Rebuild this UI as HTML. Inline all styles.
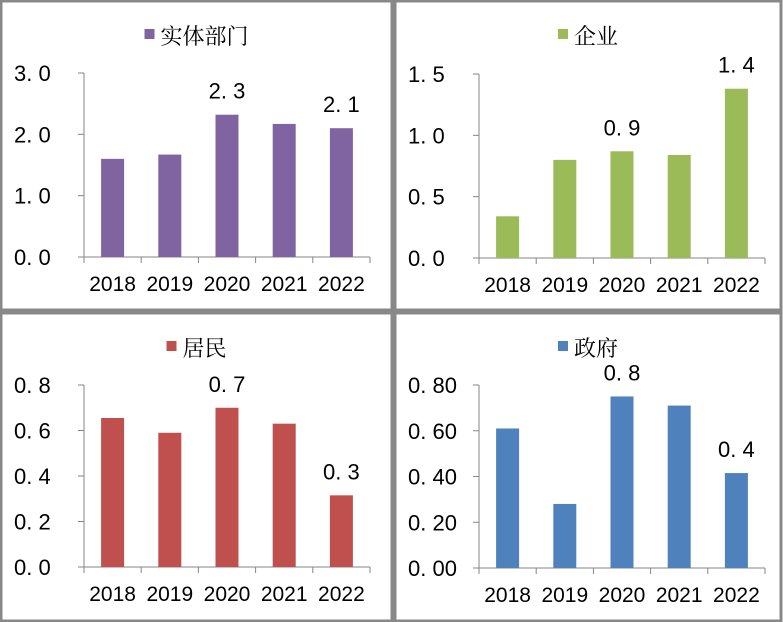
<!DOCTYPE html>
<html><head><meta charset="utf-8"><style>
body{margin:0;background:#fff;width:783px;height:622px;overflow:hidden;font-family:"Liberation Sans","Noto Sans CJK SC",sans-serif}
svg{position:absolute;left:0;top:0}
</style></head><body>
<svg id="c" width="783" height="622"></svg>
<script>
const years=["2018","2019","2020","2021","2022"];
const titles=["实体部门","企业","居民","政府"];
const colors=["#8064a2","#9bbb59","#c0504d","#4f81bd"];
const valsReal=[1.6,1.67,2.32,2.17,2.1];
const valsCorp=[0.34,0.8,0.87,0.84,1.38];
const valsHouse=[0.655,0.59,0.70,0.63,0.315];
const valsGov=[0.61,0.28,0.75,0.71,0.415];
const series=[valsReal,valsCorp,valsHouse,valsGov];
const ticksReal=["0.0","1.0","2.0","3.0"];
const ticksCorp=["0.0","0.5","1.0","1.5"];
const ticksHouse=["0.0","0.2","0.4","0.6","0.8"];
const ticksGov=["0.00","0.20","0.40","0.60","0.80"];
const tickSets=[ticksReal,ticksCorp,ticksHouse,ticksGov];
const labelsReal=[null,null,"2.3",null,"2.1"];
const labelsCorp=[null,null,"0.9",null,"1.4"];
const labelsHouse=[null,null,"0.7",null,"0.3"];
const labelsGov=[null,null,"0.8",null,"0.4"];
const labelSets=[labelsReal,labelsCorp,labelsHouse,labelsGov];
const NS="http://www.w3.org/2000/svg";
const svg=document.getElementById('c');
function mk(t,a,p){const e=document.createElementNS(NS,t);for(const k in a)e.setAttribute(k,a[k]);(p||svg).appendChild(e);return e;}
const panels=[[1,1,391,309],[395,1,386,309],[1,313,391,308],[395,313,386,308]];
const axes=[{x0:84,y0:257,y1:73},{x0:479,y0:258,y1:74},{x0:84,y0:567,y1:385},{x0:479,y0:568,y1:385}];
panels.forEach((p,i)=>{
  const g=mk('g',{});
  
  
  const r=mk('rect',{x:p[0],y:p[1],width:p[2],height:p[3],fill:'none',stroke:'#888',"stroke-width":3},g);
  
  
  const ax=axes[i];
  const cw=57.2, xEnd=ax.x0+cw*5;
  const ticks=tickSets[i];
  const maxV=parseFloat(ticks[ticks.length-1]);
  const ys=v=>ax.y0-(v/maxV)*(ax.y0-ax.y1);
  const xs=k=>ax.x0+cw*k+cw/2;
  const cx=p[0]+p[2]/2;
  const tw=titles[i].length*22;
  const sq=mk('rect',{x:cx-tw/2-8,y:p[1]+28,width:10,height:10,fill:colors[i]},g);
  
  
  const lt=mk('text',{x:cx-tw/2+8,y:p[1]+43,"font-size":22,fill:'#000',"font-family":'"Noto Serif CJK SC","Noto Sans CJK SC",serif'},g);
  lt.textContent=titles[i];
  
  
  mk('line',{x1:ax.x0,y1:ax.y1,x2:ax.x0,y2:ax.y0,stroke:'#868686'},g);
  mk('line',{x1:ax.x0-6,y1:ax.y0,x2:xEnd,y2:ax.y0,stroke:'#868686'},g);
  ticks.forEach(t=>{
    const y=ys(parseFloat(t));
    mk('line',{x1:ax.x0-6,y1:y,x2:ax.x0,y2:y,stroke:'#868686'},g);
    const tx=mk('text',{x:p[0]+13,y:y+8,"font-size":22,fill:'#000'},g);
    tx.textContent=t.replace('.','. ');
    
    
  });
  for(let k=0;k<=5;k++){mk('line',{x1:ax.x0+cw*k,y1:ax.y0,x2:ax.x0+cw*k,y2:ax.y0+6,stroke:'#868686'},g);}
  years.forEach((yr,k)=>{
    const t=mk('text',{x:xs(k),y:ax.y0+34,"font-size":21,"text-anchor":'middle',fill:'#000'},g);
    t.textContent=yr;
    
    
  });
  series[i].forEach((v,k)=>{
    const b=mk('rect',{x:xs(k)-11.5,y:ys(v),width:23,height:ax.y0-ys(v),fill:colors[i]},g);
    
    
    const lab=labelSets[i][k];
    if(lab){
      const t=mk('text',{x:xs(k),y:ys(v)-16,"font-size":22,"text-anchor":'middle',fill:'#000'},g);
      t.textContent=lab.replace('.','. ');
      
      
    }
  });
});
</script>
</body></html>
